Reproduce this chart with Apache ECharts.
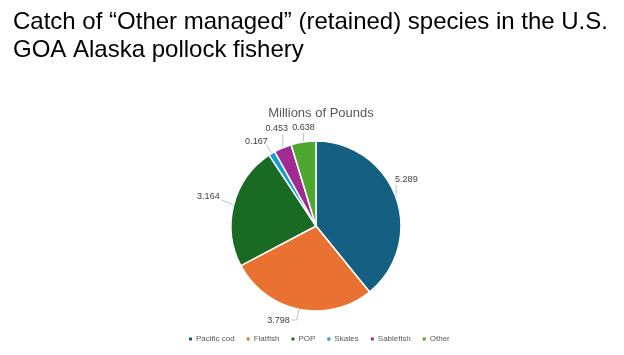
<!DOCTYPE html>
<html><head><meta charset="utf-8">
<script src="https://cdn.jsdelivr.net/npm/echarts@6/dist/echarts.min.js"></script>
<style>html,body{margin:0;padding:0;background:#fff;}#c{width:624px;height:355px;}</style>
</head><body><div id="c"></div>
<script>
const categories = ["Pacific cod", "Flatfish", "POP", "Skates", "Sablefish", "Other"];
const values = [5.289, 3.798, 3.164, 0.167, 0.453, 0.638];
const colors = ["#156082", "#E97132", "#196B24", "#0F9ED5", "#A02B93", "#4EA72E"];
const titleLines = ["Catch of \u201cOther managed\u201d (retained) species in the U.S.", "GOA Alaska pollock fishery"];
const subtitle = "Millions of Pounds";

const chart = echarts.init(document.getElementById('c'), null, {renderer: 'canvas'});

// Per-slice label placement rules, relative to the slice edge point the library computes.
function placeLabel(idx, e, d) {
  switch (idx) {
    case 0: { const p = [e[0], e[1] - 13];
      return {x: e[0] - 1, y: e[1] - 14, align: 'left', verticalAlign: 'bottom', labelLinePoints: [e, p, p]}; }
    case 1: { const p1 = [e[0] + d[0] * 11, e[1] + d[1] * 11]; const p2 = [p1[0] - 6, p1[1]];
      return {x: p2[0] - 1, y: p2[1], align: 'right', verticalAlign: 'middle', labelLinePoints: [e, p1, p2]}; }
    case 2: { const p = [e[0] - 12, e[1] - 5];
      return {x: p[0] - 2, y: p[1] - 3, align: 'right', verticalAlign: 'middle', labelLinePoints: [e, p, p]}; }
    case 3: { const p = [e[0] + d[0] * 10, e[1] + d[1] * 10];
      return {x: p[0] + 1, y: p[1] + 1, align: 'right', verticalAlign: 'bottom', labelLinePoints: [e, p, p]}; }
    case 4: { const p = [e[0], e[1] - 14];
      return {x: p[0] - 6, y: p[1] - 1, align: 'center', verticalAlign: 'bottom', labelLinePoints: [e, p, p]}; }
    default: { const p = [e[0], e[1] - 9];
      return {x: p[0], y: p[1] - 1, align: 'center', verticalAlign: 'bottom', labelLinePoints: [e, p, p]}; }
  }
}

chart.setOption({
  animation: false,
  title: [
    {text: titleLines.join('\n'), left: 8, top: 3,
     textStyle: {fontFamily: 'Liberation Sans', fontSize: 24, fontWeight: 'normal', color: '#000', lineHeight: 28}},
    {text: subtitle, left: 316, top: 102, textAlign: 'center',
     textStyle: {fontFamily: 'Liberation Sans', fontSize: 13, fontWeight: 'normal', color: '#595959'}}
  ],
  legend: {
    top: 335, left: 187, padding: 0, itemWidth: 5, itemHeight: 5, itemGap: 10, icon: 'rect',
    textStyle: {fontFamily: 'Liberation Sans', fontSize: 8, color: '#595959', padding: [0, 0, 0, -2]},
    data: categories
  },
  series: [{
    type: 'pie',
    center: [316, 226],
    radius: [0, 85],
    startAngle: 90,
    clockwise: true,
    avoidLabelOverlap: false,
    itemStyle: {borderColor: '#fff', borderWidth: 1.5},
    label: {show: true, position: 'outside', formatter: p => p.value.toFixed(3),
            fontFamily: 'Liberation Sans', fontSize: 9, color: '#404040'},
    labelLine: {show: true, length: 8, length2: 4, lineStyle: {color: '#bfbfbf', width: 1}},
    labelLayout: function (params) {
      const pts = params.labelLinePoints;
      if (!pts) return {};
      const e = pts[0];
      const dx = pts[1][0] - e[0], dy = pts[1][1] - e[1];
      const len = Math.sqrt(dx * dx + dy * dy) || 1;
      return placeLabel(params.dataIndex, e, [dx / len, dy / len]);
    },
    data: categories.map((c, i) => ({name: c, value: values[i], itemStyle: {color: colors[i]}}))
  }]
});
</script></body></html>
